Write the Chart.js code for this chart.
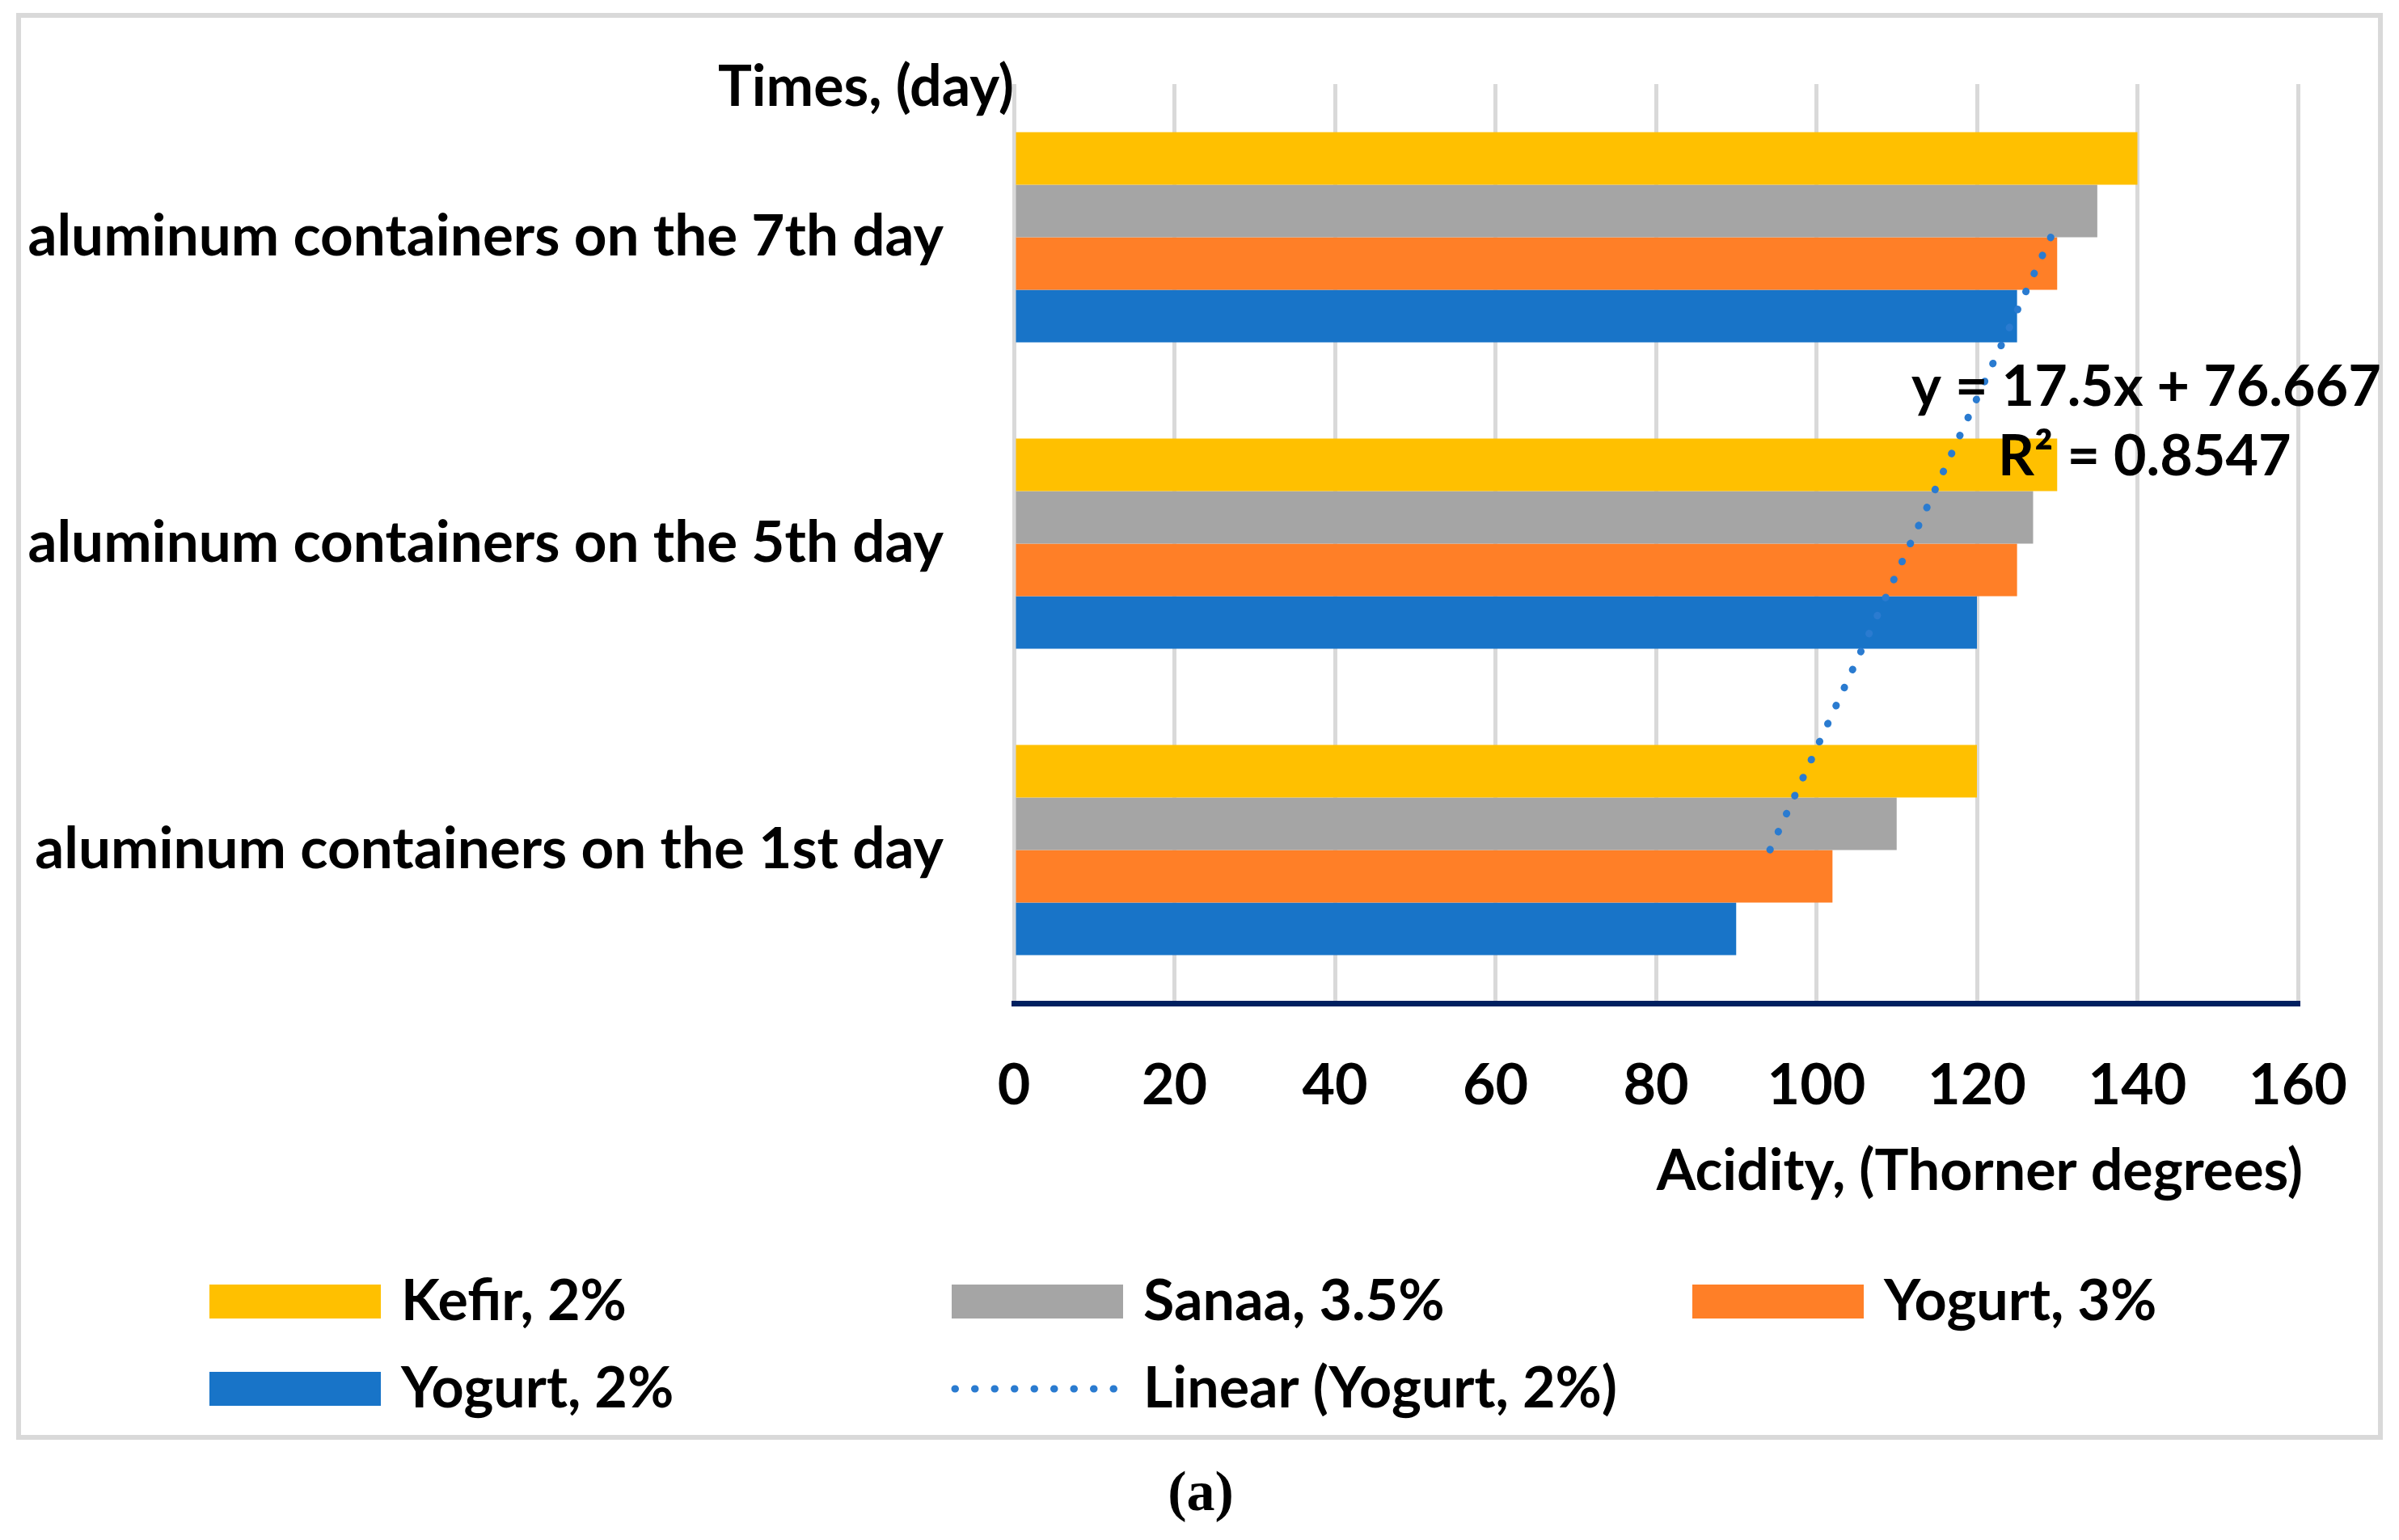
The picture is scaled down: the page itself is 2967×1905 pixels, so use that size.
<!DOCTYPE html>
<html>
<head>
<meta charset="utf-8">
<script src="https://cdn.jsdelivr.net/npm/chart.js@4.4.1/dist/chart.umd.min.js"></script>
<style>
  html, body { margin: 0; padding: 0; background: #fff; }
  canvas { display: block; }
</style>
</head>
<body>
<canvas id="acidChart" width="2967" height="1905"></canvas>
<script>
// categories top to bottom, as in the picture
const categories = [
  "aluminum containers on the 7th day",
  "aluminum containers on the 5th day",
  "aluminum containers on the 1st day"
];
const kefir = [140, 130, 120];
const sanaa = [135, 127, 110];
const yogurt3 = [130, 125, 102];
const yogurt2 = [125, 120, 90];
// trend line for Yogurt 2% (y = 17.5x + 76.667), read at each category
const yogurt2Linear = [129.2, 111.7, 94.2];
const xTicks = [0, 20, 40, 60, 80, 100, 120, 140, 160];
const trendEquation = "y = 17.5x + 76.667";
const trendR2 = "R\u00B2 = 0.8547";

const FONT = "Lato";
const ctx = document.getElementById("acidChart").getContext("2d");

// legend slots: [x, y center]
const legendSlots = [[259, 1610], [1177, 1610], [2093, 1610], [259, 1718], [1177, 1718]];

const extras = {
  id: "extras",
  beforeDraw(chart) {
    const c = chart.ctx;
    c.save();
    c.fillStyle = "#fff";
    c.fillRect(0, 0, chart.width, chart.height);
    c.strokeStyle = "#d9d9d9";
    c.lineWidth = 6;
    c.strokeRect(23, 19, 2921, 1759);
    c.restore();
  },
  afterDraw(chart) {
    const c = chart.ctx;
    const a = chart.chartArea;
    c.save();
    c.fillStyle = "#000";
    c.font = "bold 70px " + FONT;
    c.textBaseline = "middle";
    c.textAlign = "right";
    c.fillText("Times, (day)", a.left, 108);
    c.fillText("Acidity, (Thorner degrees)", a.right + 6, 1449);

    c.textAlign = "left";
    c.fillText(trendEquation, 2364, 479);
    c.fillText(trendR2, 2471, 565);

    // legend
    chart.data.datasets.forEach((ds, i) => {
      const [x, y] = legendSlots[i];
      if (ds.type === "line") {
        c.save();
        c.strokeStyle = ds.borderColor;
        c.lineWidth = ds.borderWidth;
        c.lineCap = "round";
        c.setLineDash(ds.borderDash);
        c.beginPath();
        c.moveTo(x + 4, y);
        c.lineTo(x + 208, y);
        c.stroke();
        c.restore();
      } else {
        c.fillStyle = ds.backgroundColor;
        c.fillRect(x, y - 21, 212, 42);
      }
      c.fillStyle = "#000";
      c.fillText(ds.label, x + 237, y);
    });

    c.font = "bold 70px 'Liberation Serif'";
    c.textAlign = "center";
    c.fillText("(a)", 1485, 1850);
    c.restore();
  }
};

new Chart(ctx, {
  type: "bar",
  data: {
    labels: categories,
    datasets: [
      { label: "Kefir, 2%", data: kefir, backgroundColor: "#FFC000" },
      { label: "Sanaa, 3.5%", data: sanaa, backgroundColor: "#A5A5A5" },
      { label: "Yogurt, 3%", data: yogurt3, backgroundColor: "#FF7F27" },
      { label: "Yogurt, 2%", data: yogurt2, backgroundColor: "#1874C8" },
      {
        type: "line",
        label: "Linear (Yogurt, 2%)",
        data: yogurt2Linear,
        indexAxis: "y",
        borderColor: "#2A7BD0",
        borderWidth: 9,
        borderDash: [0.5, 24],
        borderCapStyle: "round",
        pointRadius: 0,
        fill: false,
        order: -1
      }
    ]
  },
  options: {
    indexAxis: "y",
    responsive: false,
    animation: false,
    devicePixelRatio: 1,
    layout: { padding: { left: 0, top: 104, right: 125, bottom: 405 } },
    datasets: {
      bar: { barPercentage: 1, categoryPercentage: 0.686, borderWidth: 0 }
    },
    plugins: {
      legend: { display: false },
      tooltip: { enabled: false }
    },
    scales: {
      x: {
        min: 0,
        max: 160,
        afterBuildTicks: s => { s.ticks = xTicks.map(v => ({ value: v })); },
        afterFit: s => { s.height = 259; },
        grid: { color: "#d9d9d9", lineWidth: 5, drawTicks: false },
        border: { color: "#002060", width: 7 },
        ticks: { color: "#000", font: { family: FONT, size: 70, weight: "bold" }, padding: 60, maxRotation: 0 }
      },
      y: {
        afterFit: s => { s.width = 1254; s.paddingTop = 0; s.paddingBottom = 0; },
        grid: { display: false, drawTicks: false },
        border: { display: false },
        ticks: { color: "#000", font: { family: FONT, size: 71, weight: "bold" }, padding: 87 }
      }
    }
  },
  plugins: [extras]
});
</script>
</body>
</html>
